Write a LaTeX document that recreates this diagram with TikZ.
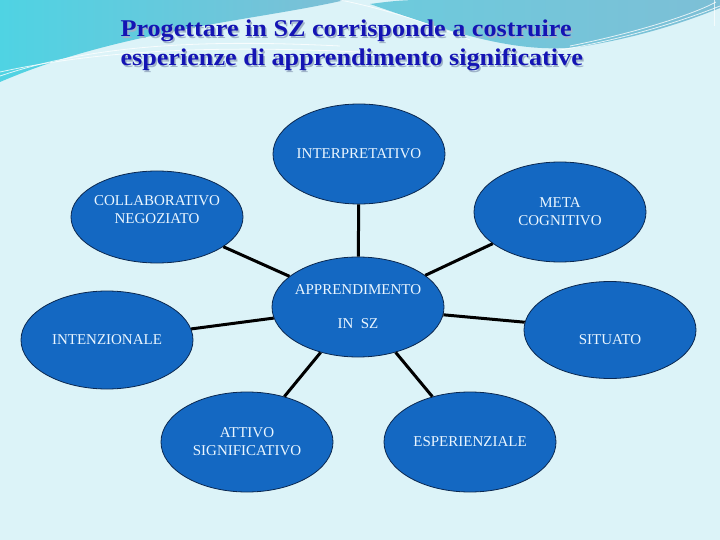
\documentclass[tikz,border=0pt]{standalone}
\usepackage{fontspec}
\setmainfont{Liberation Serif}
\usetikzlibrary{shapes.geometric,shadings}
\definecolor{bgc}{HTML}{DCF3F8}
\definecolor{tealA}{HTML}{4FD3E3}
\definecolor{tealB}{HTML}{7DBFD6}
\definecolor{tealC}{HTML}{6CCBDD}
\definecolor{ellfill}{HTML}{1468C2}
\definecolor{elldraw}{HTML}{0B2850}
\definecolor{elltext}{HTML}{EAF6FF}
\definecolor{titleblue}{HTML}{1414B4}
\definecolor{titleshadow}{HTML}{9FB3C8}
\tikzset{
  bubble/.style={ellipse, fill=ellfill, draw=elldraw, line width=0.8pt,
    minimum width=172pt, minimum height=100pt, inner xsep=-25pt, inner ysep=-10pt,
    text=elltext, font=\fontsize{15}{18}\selectfont, align=center},
  link/.style={line width=3pt, black},
  swoosh/.style={white, line width=0.8pt, opacity=0.8},
  ttl/.style={anchor=base west, font=\fontsize{24}{28}\bfseries\selectfont}
}
\newcommand{\ttlA}{\scalebox{1.09}[1]{Progettare in SZ corrisponde a costruire}}
\newcommand{\ttlB}{\scalebox{1.09}[1]{esperienze di apprendimento significative}}
\begin{document}
\begin{tikzpicture}[x=1pt,y=-1pt]
\useasboundingbox (0,0) rectangle (720,540);
\fill[bgc] (0,0) rectangle (720,540);
% left teal region
\shade[left color=tealA, right color=tealB]
  (0,0) -- (345,0) .. controls (260,20) and (120,30) .. (0,82) -- cycle;
% right teal band
\shade[left color=tealC, right color=tealB]
  (370,4) .. controls (450,32) and (520,56) .. (585,46)
  .. controls (645,36) and (690,20) .. (720,8) -- (720,0) -- (420,0) .. controls (400,0) and (385,2) .. (370,4) -- cycle;
% swoosh lines
\draw[swoosh] (0,76) .. controls (100,42) and (220,40) .. (340,46);
\draw[swoosh] (0,72) .. controls (110,48) and (230,46) .. (360,52);
\draw[swoosh] (340,0) .. controls (380,8) and (420,20) .. (470,40);
\draw[swoosh] (560,50) .. controls (620,40) and (680,22) .. (720,6);
\draw[swoosh] (570,46) .. controls (630,34) and (690,16) .. (716,2);
\draw[white, line width=1pt, opacity=0.7] (714,0) -- (714,26);
% title
\node[ttl, text=titleshadow] at (118.5,38.5) {\ttlA};
\node[ttl, text=titleshadow] at (118.5,67.5) {\ttlB};
\node[ttl, text=titleblue] (t1) at (117,37) {\ttlA};
\node[ttl, text=titleblue] (t2) at (117,66) {\ttlB};
% bubbles
\node[bubble] (c) at (358,307) {APPRENDIMENTO\\[16pt]IN\ \ SZ};
\node[bubble] (interp) at (359,154) {INTERPRETATIVO};
\node[bubble, minimum height=92pt] (coll) at (157,217) {COLLABORATIVO\\NEGOZIATO\\[-8pt]\strut};
\node[bubble] (meta) at (560,212) {META\\COGNITIVO};
\node[bubble, minimum height=98pt] (intenz) at (107,340) {INTENZIONALE};
\node[bubble, minimum height=97pt] (sit) at (610,330) {\strut\\[-2pt]SITUATO};
\node[bubble] (att) at (247,442) {ATTIVO\\SIGNIFICATIVO};
\node[bubble] (esp) at (470,442) {ESPERIENZIALE};
% links
\draw[link] (c) -- (interp);
\draw[link] (c) -- (coll);
\draw[link] (c) -- (meta);
\draw[link] (c) -- (intenz);
\draw[link] (c) -- (sit);
\draw[link] (c) -- (att);
\draw[link] (c) -- (esp);
\end{tikzpicture}
\end{document}
